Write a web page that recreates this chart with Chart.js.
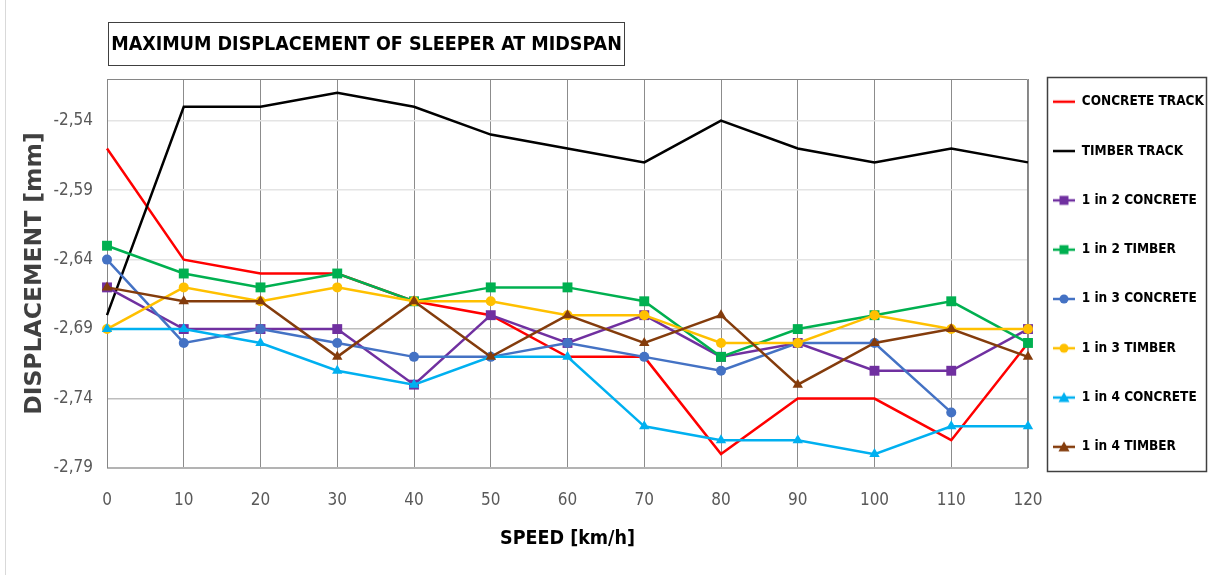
<!DOCTYPE html>
<html>
<head>
<meta charset="utf-8">
<script src="https://cdn.jsdelivr.net/npm/chart.js@4/dist/chart.umd.min.js"></script>
<style>
  html, body { margin: 0; padding: 0; background: #fff; }
  #wrap { position: relative; width: 1214px; height: 575px; overflow: hidden; }
  #frame { position: absolute; left: 5px; top: 0; bottom: 0; border-left: 1px solid #d9d9d9; }
  #title {
    position: absolute; left: 108px; top: 22px; width: 515px; height: 42px;
    border: 1px solid #404040; box-sizing: content-box;
    font: bold 19.5px 'Liberation Sans Narrow', 'DejaVu Sans Condensed', sans-serif;
    line-height: 42px; text-align: center; color: #000; white-space: nowrap;
  }
  canvas { position: absolute; left: 0; top: 0; }
</style>
</head>
<body>
<div id="wrap">
  <div id="frame"></div>
  <canvas id="myChart" width="1214" height="575"></canvas>
  <div id="title">MAXIMUM DISPLACEMENT OF SLEEPER AT MIDSPAN</div>
</div>
<script>
'use strict';

// speed [km/h]
const speeds = ['0', '10', '20', '30', '40', '50', '60', '70', '80', '90', '100', '110', '120'];

// displacement [mm]
const concreteTrack  = [-2.56, -2.64, -2.65, -2.65, -2.67, -2.68, -2.71, -2.71, -2.78, -2.74, -2.74, -2.77, -2.70];
const timberTrack    = [-2.68, -2.53, -2.53, -2.52, -2.53, -2.55, -2.56, -2.57, -2.54, -2.56, -2.57, -2.56, -2.57];
const oneIn2Concrete = [-2.66, -2.69, -2.69, -2.69, -2.73, -2.68, -2.70, -2.68, -2.71, -2.70, -2.72, -2.72, -2.69];
const oneIn2Timber   = [-2.63, -2.65, -2.66, -2.65, -2.67, -2.66, -2.66, -2.67, -2.71, -2.69, -2.68, -2.67, -2.70];
const oneIn3Concrete = [-2.64, -2.70, -2.69, -2.70, -2.71, -2.71, -2.70, -2.71, -2.72, -2.70, -2.70, -2.75, null];
const oneIn3Timber   = [-2.69, -2.66, -2.67, -2.66, -2.67, -2.67, -2.68, -2.68, -2.70, -2.70, -2.68, -2.69, -2.69];
const oneIn4Concrete = [-2.69, -2.69, -2.70, -2.72, -2.73, -2.71, -2.71, -2.76, -2.77, -2.77, -2.78, -2.76, -2.76];
const oneIn4Timber   = [-2.66, -2.67, -2.67, -2.71, -2.67, -2.71, -2.68, -2.70, -2.68, -2.73, -2.70, -2.69, -2.71];

const yTicks = [-2.79, -2.74, -2.69, -2.64, -2.59, -2.54];

const NARROW = "'Liberation Sans Narrow', 'DejaVu Sans Condensed', sans-serif";
const LEGEND_GAP = 35.8;

function series(label, data, color, style, radius) {
  return {
    label: label,
    data: data,
    borderColor: color,
    backgroundColor: color,
    borderWidth: 2.5,
    pointStyle: style || 'circle',
    pointRadius: style ? radius : 0,
    pointHoverRadius: style ? radius : 0,
    pointBorderWidth: 0,
    tension: 0,
    spanGaps: false
  };
}

const datasets = [
  series('CONCRETE TRACK', concreteTrack, '#ff0000'),
  series('TIMBER TRACK', timberTrack, '#000000'),
  series('1 in 2 CONCRETE', oneIn2Concrete, '#7030a0', 'rect', 7),
  series('1 in 2 TIMBER', oneIn2Timber, '#00b050', 'rect', 7),
  series('1 in 3 CONCRETE', oneIn3Concrete, '#4472c4', 'circle', 5),
  series('1 in 3 TIMBER', oneIn3Timber, '#ffc000', 'circle', 5),
  series('1 in 4 CONCRETE', oneIn4Concrete, '#00b0f0', 'triangle', 6),
  series('1 in 4 TIMBER', oneIn4Timber, '#843c0c', 'triangle', 6)
];
// Excel draws the first series at the bottom
datasets.forEach(function (ds, i) { ds.order = -i; });

// small legend symbol: line with the marker in the middle
function legendSymbol(ds) {
  const c = document.createElement('canvas');
  c.width = 24; c.height = 14;
  const g = c.getContext('2d');
  g.strokeStyle = ds.borderColor;
  g.fillStyle = ds.borderColor;
  g.lineWidth = 2.5;
  g.beginPath(); g.moveTo(1, 7); g.lineTo(23, 7); g.stroke();
  if (ds.pointRadius > 0) {
    g.beginPath();
    if (ds.pointStyle === 'rect') {
      g.rect(7.5, 2.5, 9, 9);
    } else if (ds.pointStyle === 'circle') {
      g.arc(12, 7, 4.5, 0, Math.PI * 2);
    } else {
      g.moveTo(12, 1.5); g.lineTo(17.5, 11.5); g.lineTo(6.5, 11.5); g.closePath();
    }
    g.fill();
  }
  return c;
}

const plotFrame = {
  id: 'plotFrame',
  beforeDatasetsDraw(chart) {
    const a = chart.chartArea, ctx = chart.ctx;
    ctx.save();
    ctx.strokeStyle = '#868686';
    ctx.lineWidth = 1;
    ctx.beginPath();
    ctx.moveTo(a.left + 0.5, a.bottom);
    ctx.lineTo(a.left + 0.5, a.top + 0.5);
    ctx.lineTo(a.right - 0.5, a.top + 0.5);
    ctx.lineTo(a.right - 0.5, a.bottom);
    ctx.stroke();
    ctx.restore();
  }
};

const legendBox = {
  id: 'legendBox',
  beforeInit(chart) {
    const fit = chart.legend.fit;
    chart.legend.fit = function () {
      fit.call(this);
      this.width = 186;
    };
  },
  afterLayout(chart) {
    // items start at left + padding, top + padding
    const l = chart.legend, a = chart.chartArea;
    l.left = a.right + 25 - LEGEND_GAP;
    l.top = a.top + 16 - LEGEND_GAP;
  },
  afterDraw(chart) {
    const a = chart.chartArea, ctx = chart.ctx;
    ctx.save();
    ctx.strokeStyle = '#404040';
    ctx.lineWidth = 1.5;
    ctx.strokeRect(a.right + 19.5, a.top - 1.5, 159, a.bottom - a.top + 5);
    ctx.restore();
  }
};

new Chart(document.getElementById('myChart'), {
  type: 'line',
  data: { labels: speeds, datasets: datasets },
  options: {
    responsive: false,
    animation: false,
    devicePixelRatio: 1,
    layout: { padding: { top: 79, left: 0, right: 0, bottom: 0 } },
    plugins: {
      title: { display: false },
      tooltip: { enabled: false },
      legend: {
        position: 'right',
        align: 'start',
        labels: {
          usePointStyle: true,
          pointStyleWidth: 22,
          padding: LEGEND_GAP,
          color: '#000',
          font: { family: NARROW, size: 13.5, weight: 'bold' },
          generateLabels: function (chart) {
            return chart.data.datasets.map(function (ds, i) {
              return {
                text: ds.label,
                datasetIndex: i,
                pointStyle: legendSymbol(ds),
                fillStyle: ds.borderColor,
                strokeStyle: ds.borderColor,
                lineWidth: 0,
                hidden: false
              };
            });
          }
        }
      }
    },
    scales: {
      x: {
        type: 'category',
        offset: false,
        afterFit: function (scale) { scale.height = 107; },
        grid: { color: '#8c8c8c', lineWidth: 1, drawTicks: false },
        border: { display: false },
        ticks: { color: '#595959', padding: 22, maxRotation: 0, autoSkip: false,
                 font: { family: NARROW, size: 17 } },
        title: {
          display: true,
          text: 'SPEED [km/h]',
          color: '#000',
          padding: { top: 0, bottom: 24 },
          font: { family: NARROW, size: 19.5, weight: 'bold' }
        }
      },
      y: {
        min: -2.79,
        max: -2.51,
        afterFit: function (scale) { scale.width = 107; },
        afterBuildTicks: function (scale) {
          scale.ticks = yTicks.map(function (v) { return { value: v }; });
        },
        grid: {
          drawTicks: false,
          color: function (c) {
            const v = c.tick ? c.tick.value : 0;
            if (v <= -2.785) return '#b3b3b3';
            if (v <= -2.685) return '#bdbdbd';
            return '#e4e4e4';
          },
          lineWidth: function (c) {
            return (c.tick && c.tick.value <= -2.785) ? 2 : 1.5;
          }
        },
        border: { display: false },
        ticks: {
          color: '#595959',
          padding: 14,
          font: { family: NARROW, size: 17 },
          callback: function (v) { return Number(v).toFixed(2).replace('.', ','); }
        },
        title: {
          display: true,
          text: 'DISPLACEMENT [mm]',
          color: '#404040',
          padding: { top: 21, bottom: 0 },
          font: { family: "'DejaVu Sans', sans-serif", size: 23.5, weight: 'bold' }
        }
      }
    }
  },
  plugins: [plotFrame, legendBox]
});
</script>
</body>
</html>
